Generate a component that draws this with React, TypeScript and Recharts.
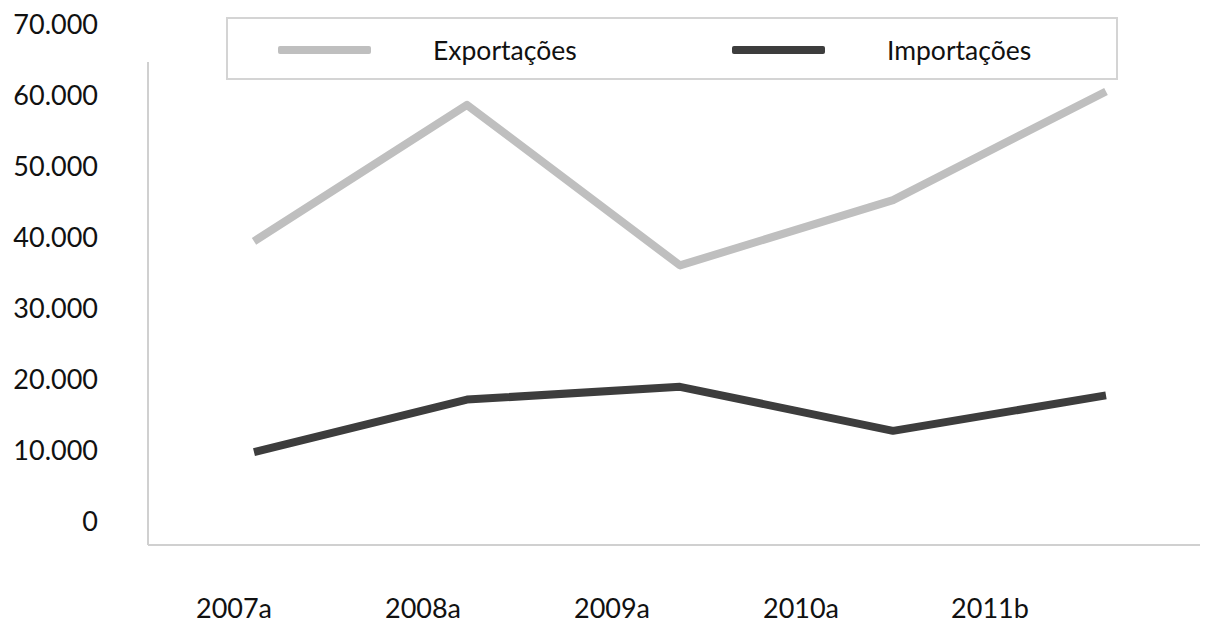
import { LineChart, Line, XAxis, YAxis, Legend } from 'recharts';

// --- Trade balance data ---
const years = ['2007a', '2008a', '2009a', '2010a', '2011b'];
const exportacoes = [39400, 58600, 36000, 45200, 60500];
const importacoes = [9700, 17100, 18900, 12700, 17700];
const yTicks = [0, 10000, 20000, 30000, 40000, 50000, 60000, 70000];

const data = years.map((year, i) => ({
  year,
  exp: exportacoes[i],
  imp: importacoes[i],
}));

const series = [
  { key: 'exp', name: 'Exportações', color: '#bfbfbf' },
  { key: 'imp', name: 'Importações', color: '#3d3d3d' },
];

const FONT = 'Lato, "Noto Sans", sans-serif';

const fmt = (v: number) => (v === 0 ? '0' : v.toLocaleString('de-DE'));

const LegendBox = () => (
  <div
    style={{
      boxSizing: 'border-box',
      width: 892,
      height: 63,
      border: '2px solid #d4d4d4',
      display: 'flex',
      alignItems: 'center',
      paddingLeft: 50,
      paddingTop: 3,
    }}
  >
    {series.map((s) => (
      <div key={s.key} style={{ width: 454, flexShrink: 0, display: 'flex', alignItems: 'center' }}>
        <div style={{ width: 93, height: 8, background: s.color, borderRadius: 2, flexShrink: 0 }} />
        <span style={{ marginLeft: 62, fontSize: 26.5, color: '#111', fontFamily: FONT, lineHeight: 1 }}>
          {s.name}
        </span>
      </div>
    ))}
  </div>
);

export default function App() {
  return (
    <div style={{ position: 'absolute', left: 0, top: 0, width: 1213, height: 626, background: '#fff', fontFamily: FONT }}>
      <LineChart width={1213} height={626} data={data} margin={{ top: 62, right: 13, bottom: 0, left: 0 }}>
        <XAxis xAxisId="pts" dataKey="year" hide padding={{ left: 106, right: 94 }} />
        <XAxis
          xAxisId="lbl"
          dataKey="year"
          height={81}
          padding={{ left: 86, right: 210 }}
          axisLine={{ stroke: '#d0d0d0', strokeWidth: 2 }}
          tickLine={false}
          tickSize={0}
          tickMargin={54}
          interval={0}
          tick={{ fill: '#111', fontSize: 27, fontFamily: FONT }}
        />
        <YAxis
          width={148}
          domain={[-3380, 64648]}
          allowDataOverflow
          ticks={yTicks}
          interval={0}
          tickFormatter={fmt}
          tickLine={false}
          tickSize={0}
          tickMargin={50}
          axisLine={{ stroke: '#d0d0d0', strokeWidth: 2 }}
          tick={{ fill: '#111', fontSize: 27, fontFamily: FONT }}
        />
        <Legend
          layout="horizontal"
          verticalAlign="middle"
          align="center"
          content={() => <LegendBox />}
          wrapperStyle={{ left: 226, top: 17, width: 892, height: 63 }}
        />
        {series.map((s) => (
          <Line
            key={s.key}
            xAxisId="pts"
            dataKey={s.key}
            name={s.name}
            stroke={s.color}
            strokeWidth={8}
            strokeLinejoin="round"
            dot={false}
            activeDot={false}
            isAnimationActive={false}
          />
        ))}
        <Line xAxisId="lbl" dataKey="imp" stroke="none" dot={false} activeDot={false} legendType="none" isAnimationActive={false} />
      </LineChart>
    </div>
  );
}
